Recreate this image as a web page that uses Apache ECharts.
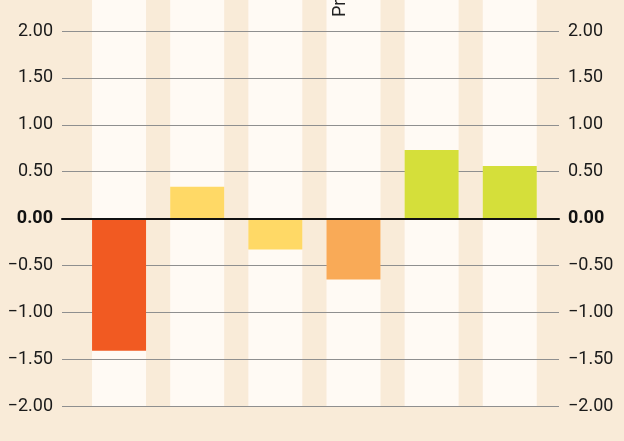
<!DOCTYPE html>
<html lang="en">
<head>
    <meta charset="utf-8">
    <title>Bar chart</title>
    <script type="text/javascript" src="https://cdn.jsdelivr.net/npm/echarts@6/dist/echarts.min.js"></script>
    <style type="text/css">
        html, body {
            margin: 0;
            padding: 0;
            background-color: #f9ebd8;
        }
    </style>
</head>
<body>
<div id="main" style="width:624px;height:441px;"></div>
<script type="text/javascript">
    // data
    var positions = [0, 1, 2, 3, 4, 5];
    var values = [-1.41, 0.34, -0.33, -0.65, 0.73, 0.56];
    var barColors = ['#f15a22', '#ffd966', '#ffd966', '#f9aa57', '#d5df3a', '#d5df3a'];
    var yTicks = [-2, -1.5, -1, -0.5, 0, 0.5, 1, 1.5, 2];
    var titleText = 'Projected change';

    var barData = [];
    var stripeData = [];
    for (var i = 0; i < positions.length; i++) {
        barData.push({
            value: [positions[i], values[i]],
            itemStyle: {color: barColors[i]}
        });
        stripeData.push([positions[i], 1]);
    }

    function fmt(v) {
        var s = Math.abs(v).toFixed(2);
        if (v === 0) {
            return '{b|' + s + '}';
        }
        return (v < 0 ? '\u2212' : '') + s;
    }

    var labelStyle = {
        fontFamily: 'Roboto',
        fontSize: 18,
        color: '#1a1a1a',
        formatter: fmt,
        rich: {
            b: {fontFamily: 'Roboto', fontSize: 18, fontWeight: 'bold', color: '#111'}
        }
    };

    var myChart = echarts.init(document.getElementById('main'));

    var option = {
        backgroundColor: '#f9ebd8',
        animation: false,
        grid: [
            {left: 62, right: 65, top: 31, bottom: 35},
            {left: 62, right: 65, top: 0, bottom: 35}
        ],
        xAxis: [{
            type: 'value',
            gridIndex: 0,
            min: -0.73,
            max: 5.63,
            z: 5,
            axisLine: {show: true, onZero: true, lineStyle: {color: '#111', width: 2}},
            axisTick: {show: false},
            axisLabel: {show: false},
            splitLine: {show: false}
        }, {
            type: 'value',
            gridIndex: 1,
            min: -0.73,
            max: 5.63,
            show: false
        }],
        yAxis: [{
            type: 'value',
            gridIndex: 0,
            min: -2,
            max: 2,
            interval: 0.5,
            z: 1,
            axisLine: {show: false},
            axisTick: {show: false},
            axisLabel: Object.assign({margin: 9}, labelStyle),
            splitLine: {lineStyle: {color: '#8f8f8f', width: 1}}
        }, {
            type: 'value',
            gridIndex: 0,
            position: 'right',
            min: -2,
            max: 2,
            interval: 0.5,
            axisLine: {show: false},
            axisTick: {show: false},
            axisLabel: Object.assign({margin: 9}, labelStyle),
            splitLine: {show: false}
        }, {
            type: 'value',
            gridIndex: 1,
            min: 0,
            max: 1,
            show: false
        }],
        graphic: [{
            type: 'text',
            x: 349,
            y: 17,
            z: 100,
            rotation: Math.PI / 2,
            style: {
                text: titleText,
                fontFamily: 'Roboto',
                fontSize: 18,
                fill: '#222',
                align: 'left',
                verticalAlign: 'bottom'
            }
        }],
        series: [{
            // background stripes
            type: 'bar',
            xAxisIndex: 1,
            yAxisIndex: 2,
            barWidth: 54,
            z: 0,
            silent: true,
            itemStyle: {color: '#fffaf4'},
            data: stripeData
        }, {
            type: 'bar',
            xAxisIndex: 0,
            yAxisIndex: 0,
            barWidth: 54,
            z: 2,
            data: barData
        }]
    };

    myChart.setOption(option);
</script>
</body>
</html>
